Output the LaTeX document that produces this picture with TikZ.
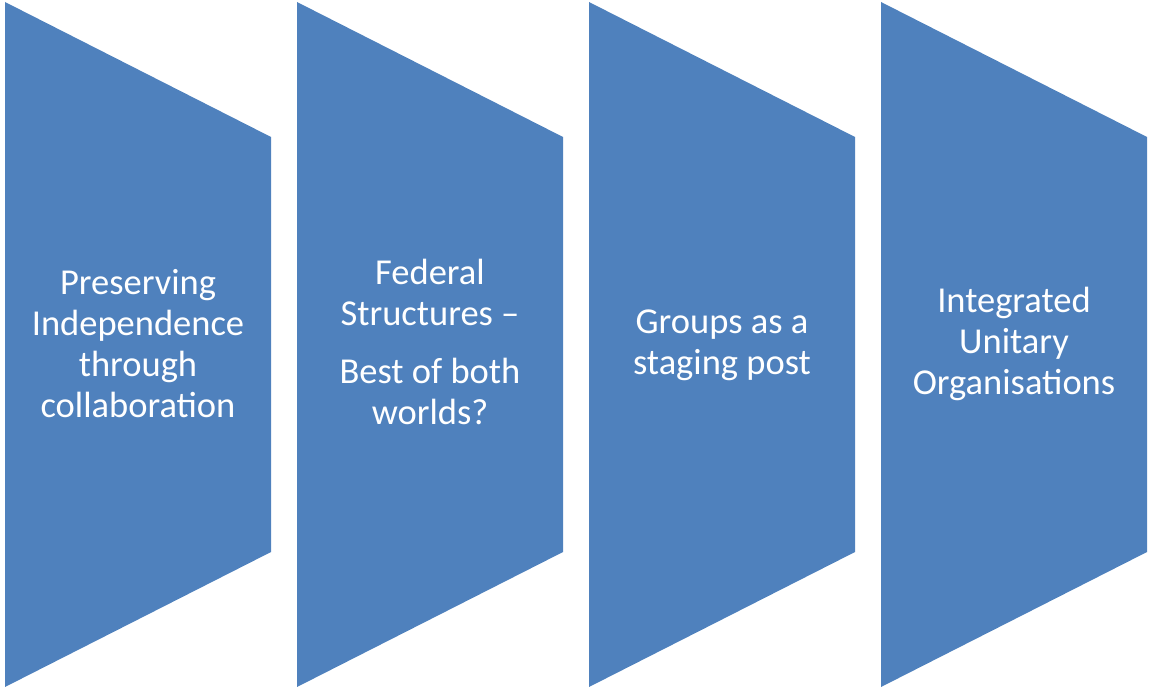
\documentclass[tikz,border=0pt]{standalone}
\usepackage{fontspec}
\setmainfont{Carlito}
\definecolor{chevblue}{HTML}{4F81BD}
\begin{document}
\begin{tikzpicture}[x=1pt,y=-1pt,
  chev/.style={fill=chevblue,draw=none},
  lbl/.style={text=white,align=center,inner sep=0pt,font=\fontsize{36.5}{41}\selectfont}]
\useasboundingbox (0,0) rectangle (1149,687);
\foreach \i/\x in {1/5,2/297,3/589,4/881}{
  \fill[chev] (\x,2) -- (\x+266,137) -- (\x+266,552) -- (\x,687) -- cycle;
  \coordinate (c\i) at (\x+133,344);
}
\node[lbl] (t1) at (c1) {Preserving\\Independence\\through\\collaboration};
\node[lbl] (t2) at ([yshift=2]c2) {Federal\\Structures --\\[17pt]Best of both\\worlds?};
\node[lbl] (t3) at ([yshift=-1]c3) {Groups as a\\staging post};
\node[lbl] (t4) at (c4) {Integrated\\Unitary\\Organisations};
\end{tikzpicture}
\end{document}
